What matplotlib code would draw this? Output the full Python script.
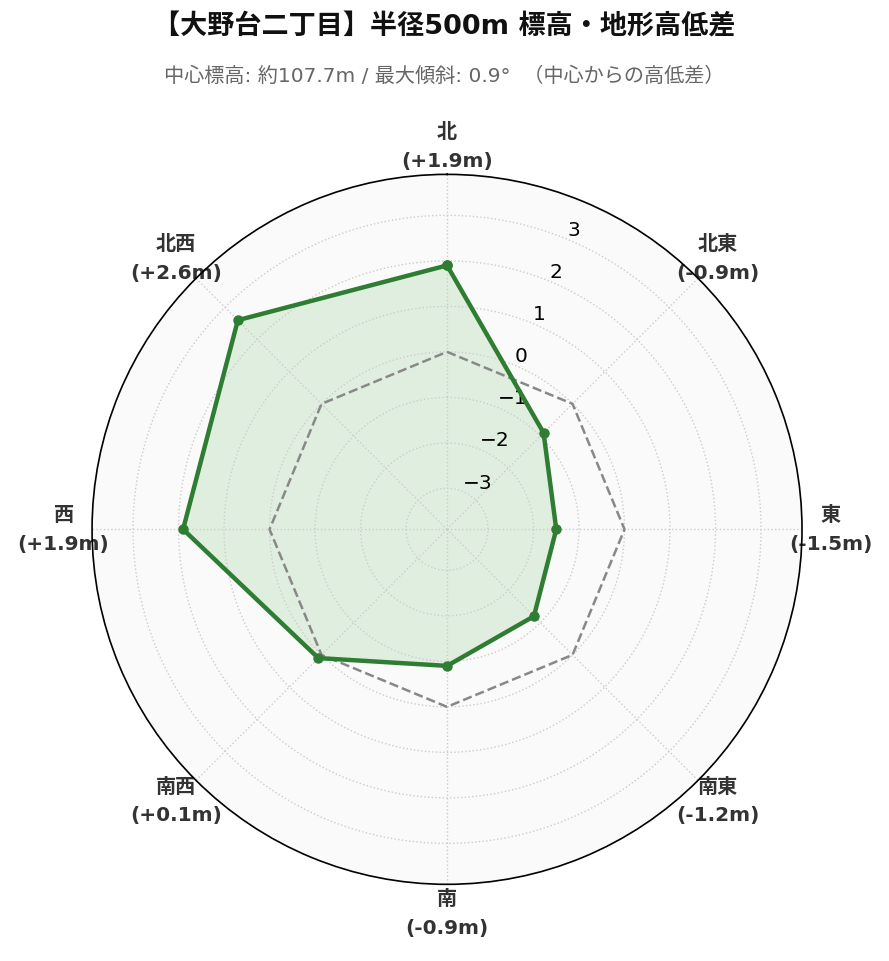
import numpy as np
import matplotlib.pyplot as plt

plt.rcParams['font.family'] = ['DejaVu Sans', 'Noto Sans CJK JP']

# データ
directions = ['北', '北東', '東', '南東', '南', '南西', '西', '北西']
diffs = [1.9, -0.9, -1.5, -1.2, -0.9, 0.1, 1.9, 2.6]
r_ticks = [-3, -2, -1, 0, 1, 2, 3]

title = '【大野台二丁目】半径500m 標高・地形高低差'
subtitle = '中心標高: 約107.7m / 最大傾斜: 0.9°  （中心からの高低差）'

n = len(directions)
angles = np.linspace(0, 2 * np.pi, n, endpoint=False)
ang_closed = np.concatenate([angles, angles[:1]])
val_closed = np.concatenate([diffs, diffs[:1]])
lim = max(abs(v) for v in diffs) * 1.5

fig = plt.figure(figsize=(8.89, 9.62), dpi=100)
ax = fig.add_axes([0.1035, 0.0797, 0.7987, 0.738], projection='polar')
ax.set_facecolor('#fafafa')
ax.set_theta_zero_location('N')
ax.set_theta_direction(-1)
ax.set_ylim(-lim, lim)

# 基準線 (0m)
ax.plot(ang_closed, np.zeros(n + 1), color='#888888', linestyle='--', linewidth=1.8, zorder=2)

# 高低差
ax.fill(ang_closed, val_closed, color='#4caf50', alpha=0.15, linewidth=0, zorder=1)
ax.plot(ang_closed, val_closed, color='#2e7d32', linewidth=3.2, marker='o', markersize=6.5, zorder=3)

labels = [f'{d}\n({v:+.1f}m)' for d, v in zip(directions, diffs)]
ax.set_xticks(angles)
ax.set_xticklabels(labels, fontsize=14.5, fontweight='bold', color='#333333', linespacing=1.65)
ax.tick_params(axis='x', pad=10)

ax.set_yticks(r_ticks)
ax.set_yticklabels([f'{t}'.replace('-', '\u2212') for t in r_ticks], fontsize=14.5)
ax.set_rlabel_position(22.5)

ax.grid(True, color='#cccccc', linestyle=':', linewidth=1.0)
ax.spines['polar'].set_color('black')
ax.spines['polar'].set_linewidth(1.2)

fig.text(0.5, 0.971, title, ha='center', va='center', fontsize=19.5, fontweight='bold', color='#111111')
fig.text(0.5, 0.921, subtitle, ha='center', va='center', fontsize=14.5, color='#666666')

fig.savefig('out.png', dpi=100, facecolor='white')
